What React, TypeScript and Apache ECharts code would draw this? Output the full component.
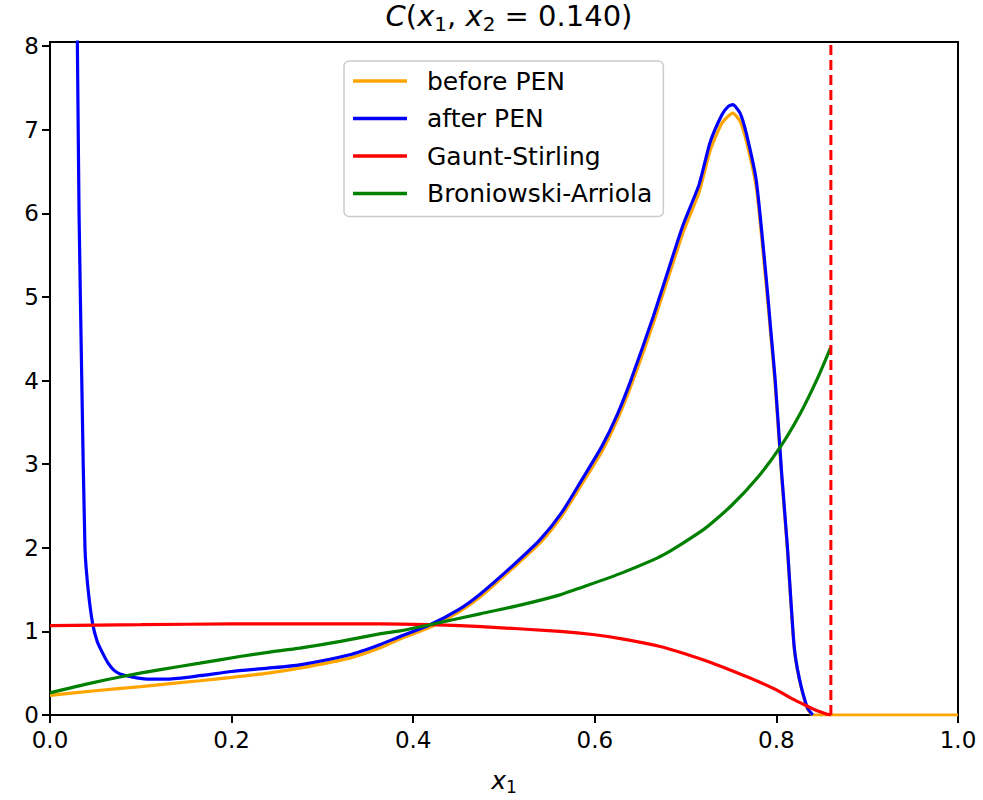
import React, { useEffect, useRef } from 'react';
import * as echarts from 'echarts';

// ---- data ----
const seriesNames = ['before PEN', 'after PEN', 'Gaunt-Stirling', 'Broniowski-Arriola'];

const beforeX = [0, 0.05, 0.1, 0.165, 0.2, 0.24, 0.275, 0.33, 0.363, 0.3855, 0.4185, 0.45, 0.4736, 0.51, 0.54, 0.5635, 0.585, 0.6076, 0.625, 0.6406, 0.6645, 0.688, 0.6975, 0.715, 0.727, 0.74, 0.752, 0.76, 0.767, 0.778, 0.789, 0.794, 0.7985, 0.806, 0.812, 0.8194, 0.825, 0.834, 0.84, 0.86, 1.0];
const beforeY = [0.235, 0.29, 0.34, 0.41, 0.45, 0.5, 0.56, 0.68, 0.8, 0.91, 1.05, 1.23, 1.41, 1.76, 2.06, 2.38, 2.75, 3.15, 3.54, 3.96, 4.69, 5.47, 5.78, 6.26, 6.75, 7.08, 7.2, 7.1, 6.86, 6.3, 5.12, 4.52, 3.97, 2.82, 2.0, 0.82, 0.44, 0.08, 0.0, 0.0, 0.0];

const afterX = [0.022, 0.026, 0.03, 0.032, 0.035, 0.0385, 0.042, 0.047, 0.052, 0.058, 0.064, 0.07, 0.077, 0.084, 0.095, 0.11, 0.13, 0.165, 0.2, 0.24, 0.275, 0.33, 0.363, 0.3855, 0.4185, 0.45, 0.4736, 0.51, 0.54, 0.5635, 0.585, 0.6076, 0.625, 0.6406, 0.6645, 0.688, 0.6975, 0.715, 0.727, 0.74, 0.747, 0.752, 0.76, 0.767, 0.778, 0.789, 0.794, 0.7985, 0.806, 0.812, 0.8194, 0.825, 0.834, 0.84];
const afterY = [20, 12, 8.2, 6.0, 4.0, 2.0, 1.5, 1.09, 0.88, 0.74, 0.62, 0.54, 0.49, 0.47, 0.445, 0.43, 0.43, 0.47, 0.52, 0.56, 0.6, 0.72, 0.84, 0.94, 1.08, 1.26, 1.445, 1.79, 2.1, 2.42, 2.8, 3.21, 3.6, 4.03, 4.77, 5.56, 5.87, 6.35, 6.85, 7.18, 7.28, 7.3, 7.2, 6.95, 6.38, 5.2, 4.58, 4.03, 2.86, 2.03, 0.84, 0.45, 0.09, 0.0];

const gauntX = [0, 0.1, 0.2, 0.3, 0.363, 0.4185, 0.47, 0.5617, 0.6, 0.63, 0.672, 0.7, 0.727, 0.76, 0.78, 0.8, 0.82, 0.833, 0.845, 0.855, 0.86];
const gauntY = [1.07, 1.08, 1.09, 1.09, 1.09, 1.08, 1.06, 1.0, 0.96, 0.91, 0.82, 0.73, 0.63, 0.49, 0.4, 0.3, 0.18, 0.11, 0.05, 0.012, 0.0];

const broX = [0, 0.04, 0.084, 0.12, 0.165, 0.209, 0.24, 0.275, 0.32, 0.363, 0.3855, 0.4185, 0.4736, 0.52, 0.5617, 0.584, 0.63, 0.6755, 0.72, 0.75, 0.78, 0.804, 0.826, 0.845, 0.86];
const broY = [0.265, 0.37, 0.47, 0.54, 0.62, 0.7, 0.75, 0.8, 0.88, 0.97, 1.007, 1.08, 1.21, 1.32, 1.437, 1.52, 1.7, 1.915, 2.22, 2.5, 2.85, 3.2, 3.6, 4.02, 4.4];

const cutoffX = 0.86;
const yRange = [0, 8.05];
const yTicks = [0, 1, 2, 3, 4, 5, 6, 7, 8];
const xRange = [0, 1];

const colors = ['#ffa500', '#0000ff', '#ff0000', '#008000'];

const pairs = (xs: number[], ys: number[]) => xs.map((x, i) => [x, ys[i]]);

const FONT = 'DejaVu Sans';

export default function App() {
  const ref = useRef<HTMLDivElement>(null);
  useEffect(() => {
    if (!ref.current) return;
    const chart = echarts.init(ref.current, undefined, { renderer: 'svg' });
    const lineW = 3.2;
    const mk = (name: string, xs: number[], ys: number[], color: string) => ({
      name,
      type: 'line',
      data: pairs(xs, ys),
      showSymbol: false,
      symbol: 'none',
      smooth: 0.2,
      color,
      lineStyle: { color, width: lineW },
      clip: true,
      z: 3,
    });
    chart.setOption({
      animation: false,
      backgroundColor: '#ffffff',
      title: {
        text: '{i|C}{n|(}{i|x}{s|1}{n|, }{i|x}{s|2}{n| = 0.140)}',
        left: 504,
        textAlign: 'center',
        top: -7,
        textStyle: {
          fontWeight: 'normal',
          rich: {
            i: { fontFamily: FONT, fontStyle: 'italic', fontWeight: 'normal', fontSize: 29, lineHeight: 36, color: '#000' },
            n: { fontFamily: FONT, fontWeight: 'normal', fontSize: 29, lineHeight: 36, color: '#000' },
            s: { fontFamily: FONT, fontWeight: 'normal', fontSize: 20, lineHeight: 16, verticalAlign: 'bottom', color: '#000' },
          },
        },
      },
      legend: {
        data: seriesNames,
        left: 344,
        top: 61,
        orient: 'vertical',
        icon: 'rect',
        itemWidth: 54,
        itemHeight: 3.5,
        itemGap: 9.5,
        selectedMode: false,
        backgroundColor: 'rgba(255,255,255,0.8)',
        borderColor: '#cccccc',
        borderWidth: 1.5,
        borderRadius: 5,
        padding: [6, 11, 9, 9],
        textStyle: { fontFamily: FONT, fontSize: 25, lineHeight: 28, color: '#000', padding: [0, 0, 0, 15] },
      },
      grid: {
        left: 50,
        width: 908,
        top: 42,
        height: 681,
        show: true,
        borderColor: '#000',
        borderWidth: 2,
        backgroundColor: 'transparent',
      },
      xAxis: {
        type: 'value',
        min: xRange[0],
        max: xRange[1],
        interval: 0.2,
        name: '{i|x}{s|1}',
        nameLocation: 'middle',
        nameGap: 50,
        nameTextStyle: {
          rich: {
            i: { fontFamily: FONT, fontStyle: 'italic', fontSize: 25, lineHeight: 30, color: '#000' },
            s: { fontFamily: FONT, fontSize: 17, lineHeight: 14, verticalAlign: 'bottom', color: '#000' },
          },
        },
        axisLine: { show: true, lineStyle: { color: '#000', width: 2 } },
        axisTick: { show: true, length: 8, lineStyle: { color: '#000', width: 2 } },
        axisLabel: { fontFamily: FONT, fontSize: 23, color: '#000', margin: 13, formatter: (v: number) => v.toFixed(1) },
        splitLine: { show: false },
      },
      yAxis: {
        type: 'value',
        min: yRange[0],
        max: yRange[1],
        axisLine: { show: true, lineStyle: { color: '#000', width: 2 } },
        axisTick: { show: true, length: 8, lineStyle: { color: '#000', width: 2 }, customValues: yTicks },
        axisLabel: { fontFamily: FONT, fontSize: 23, color: '#000', margin: 11, customValues: yTicks, formatter: (v: number) => String(Math.round(v)) },
        splitLine: { show: false },
      },
      series: [
        mk(seriesNames[0], beforeX, beforeY, colors[0]),
        mk(seriesNames[1], afterX, afterY, colors[1]),
        mk(seriesNames[2], gauntX, gauntY, colors[2]),
        mk(seriesNames[3], broX, broY, colors[3]),
        {
          name: 'cutoff',
          type: 'line',
          data: [[cutoffX, yRange[0]], [cutoffX, yRange[1]]],
          showSymbol: false,
          symbol: 'none',
          color: '#ff0000',
          lineStyle: { color: '#ff0000', width: 3, type: [10, 5] },
          z: 4,
        },
      ],
    });
    return () => chart.dispose();
  }, []);
  return (
    <div
      ref={ref}
      style={{ position: 'fixed', left: 0, top: 0, width: 983, height: 800, background: '#fff' }}
    />
  );
}
